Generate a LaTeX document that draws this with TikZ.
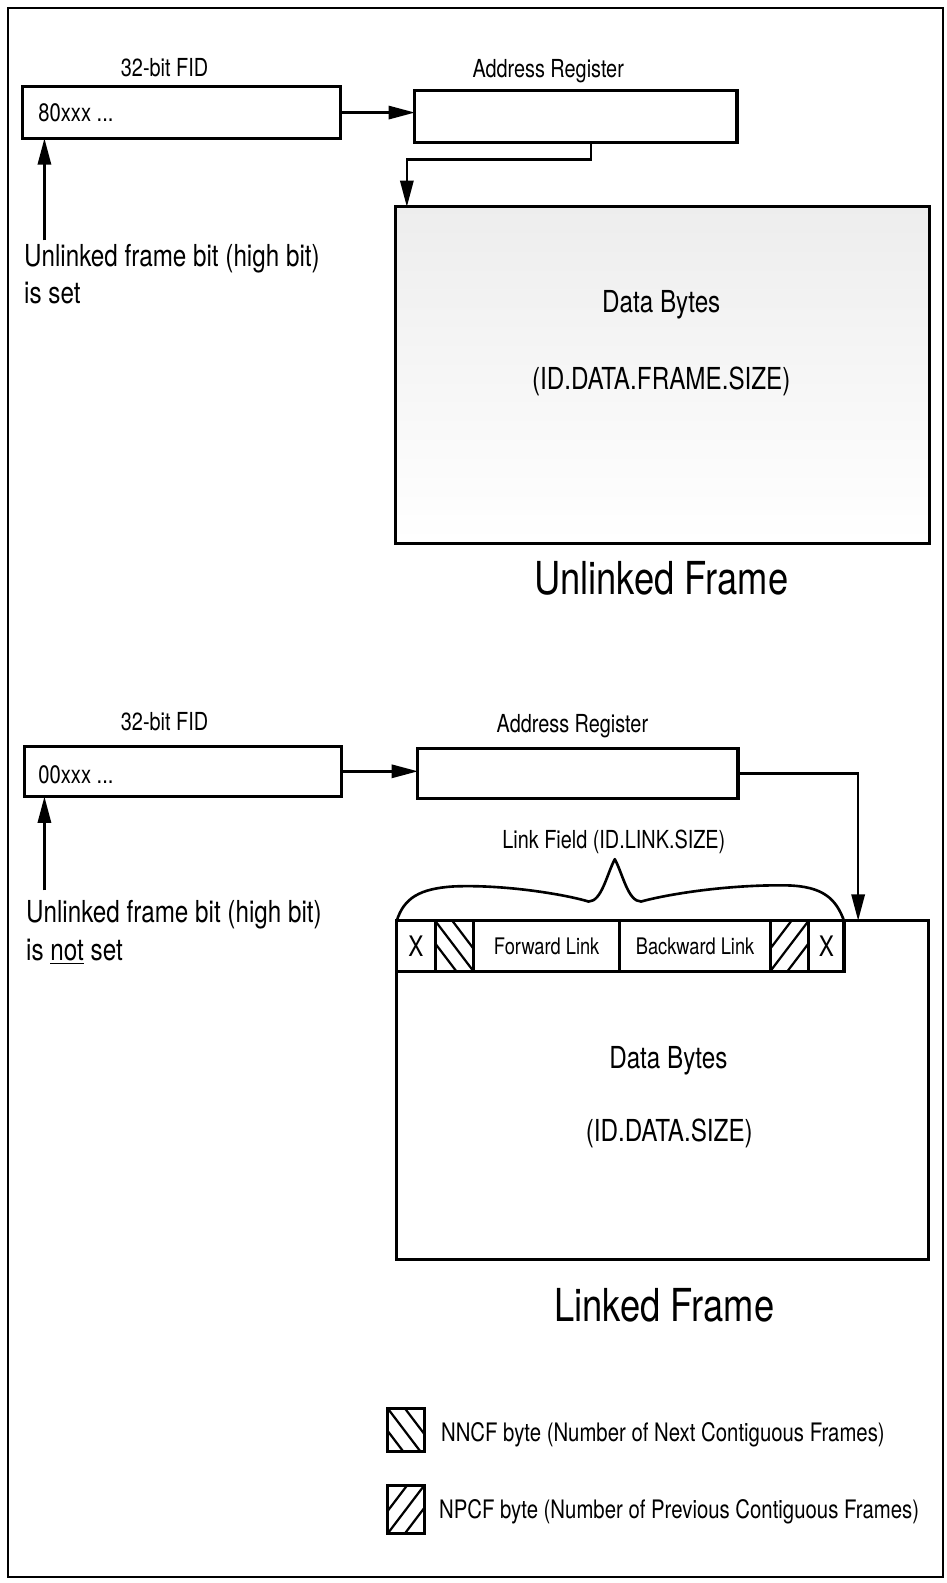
\documentclass[tikz,border=0pt]{standalone}
\usepackage{fontspec}
\setmainfont{TeX Gyre Heros}[FakeStretch=0.8]
\usetikzlibrary{arrows.meta,positioning,calc}

% hatched byte cells: "\" for NNCF, "/" for NPCF
\newcommand{\hatchnext}[1]{%
  \begin{scope}
    \clip (#1.north west) rectangle (#1.south east);
    \foreach \k in {-1,0,1}
      \draw[hatch] ($(#1.north west)+(\k*17,0)$) -- ++(60,79);
  \end{scope}}
\newcommand{\hatchprev}[1]{%
  \begin{scope}
    \clip (#1.north west) rectangle (#1.south east);
    \foreach \k in {-1,0,1}
      \draw[hatch] ($(#1.south west)+(\k*17,0)$) -- ++(60,-79);
  \end{scope}}

\begin{document}
\begin{tikzpicture}[x=0.5pt,y=-0.5pt,
  every node/.style={inner sep=0pt,outer sep=0pt},
  box/.style={draw,line width=1.5pt,anchor=north west},
  arr/.style={-{Triangle[length=13pt,width=6.5pt]},line width=1.3pt},
  lbl/.style={font=\fontsize{12.3}{14.8}\selectfont,anchor=base},
  val/.style={font=\fontsize{12.5}{15}\selectfont,anchor=base west},
  side/.style={font=\fontsize{15}{18}\selectfont,anchor=base west},
  big/.style={font=\fontsize{15}{18}\selectfont,anchor=base},
  title/.style={font=\fontsize{22.5}{27}\selectfont,anchor=base},
  cell/.style={draw,line width=1.5pt,minimum height=25pt,anchor=north west,
               font=\fontsize{11.3}{13.5}\selectfont},
  xcell/.style={cell,font=\fontsize{14}{16}\selectfont},
  brace/.style={line width=1.3pt,line join=round},
  hatch/.style={line width=1.1pt},
  keytext/.style={font=\fontsize{12.6}{15}\selectfont,anchor=base west}]
\useasboundingbox (0,0) rectangle (938,1568);
\draw[line width=1.2pt] (8,8) rectangle (934,1562);

% unlinked frame
\node[lbl] (fidUlbl) at (163,76) {32-bit FID};
\node[box,minimum width=157.5pt,minimum height=25.5pt] (fidU) at (22,86) {};
\node[val] (fidUval) at (38,120) {80xxx ...};
\node[lbl] (regUlbl) at (543,77) {Address Register};
\node[box,minimum width=159.5pt,minimum height=25.5pt] (regU) at (411,90) {};
\draw[arr] (fidU.east) -- (fidU.east -| regU.west);
\node[box,minimum width=264.5pt,minimum height=166.5pt,
      top color=black!7,bottom color=white] (dataU) at (392,205) {};
\coordinate (bendU) at (403,158);
\draw[arr] ([xshift=7.5pt]regU.south) |- (bendU) -- (bendU |- dataU.north);
\node[big] (bytesU) at (655,310) {Data Bytes};
\node[big] (sizeU) at (655,386) {(ID.DATA.FRAME.SIZE)};
\node[title] (titleU) at (655,589) {Unlinked Frame};
\coordinate (bitU) at (44,238);
\draw[arr] (bitU) -- (bitU |- fidU.south);
\node[side] (noteU1) at (24,264) {Unlinked frame bit (high bit)};
\node[side] (noteU2) at (24,301) {is set};

% linked frame
\node[lbl] (fidLlbl) at (163,724) {32-bit FID};
\node[box,minimum width=157pt,minimum height=25pt] (fidL) at (24,739) {};
\node[val] (fidLval) at (38,776) {00xxx ...};
\node[lbl] (regLlbl) at (567,726) {Address Register};
\node[box,minimum width=158.5pt,minimum height=25pt] (regL) at (414,741) {};
\draw[arr] (fidL.east) -- (fidL.east -| regL.west);
\node[box,minimum width=263.5pt,minimum height=168pt] (dataL) at (393,912) {};
\coordinate (dropL) at (850,912);
\draw[arr] (regL.east) -| (dropL);

\node[xcell,minimum width=19pt] (cXa) at (dataL.north west) {X};
\node[cell,minimum width=19pt,right=0pt of cXa] (cNN) {};
\node[cell,minimum width=72.5pt,right=0pt of cNN] (cFwd) {Forward Link};
\node[cell,minimum width=74.5pt,right=0pt of cFwd] (cBwd) {Backward Link};
\node[cell,minimum width=19pt,right=0pt of cBwd] (cNP) {};
\node[xcell,minimum width=17.5pt,right=0pt of cNP] (cXb) {X};
\hatchnext{cNN}
\hatchprev{cNP}

\draw[brace] (cXa.north west) .. controls (400,890) and (415,880) .. (450,878)
  .. controls (500,876) and (560,886) .. (583,893)
  .. controls (596,893) and (601,866) .. (609,851)
  .. controls (617,866) and (622,893) .. (635,893)
  .. controls (660,886) and (720,876) .. (780,877)
  .. controls (815,878) and (828,890) .. (cXb.north east);
\node[lbl] (linklbl) at (608,840) {Link Field (ID.LINK.SIZE)};

\node[big] (bytesL) at (662,1058) {Data Bytes};
\node[big] (sizeL) at (663,1131) {(ID.DATA.SIZE)};
\node[title] (titleL) at (658,1309) {Linked Frame};
\coordinate (bitL) at (44,882);
\draw[arr] (bitL) -- (bitL |- fidL.south);
\node[side] (noteL1) at (26,914) {Unlinked frame bit (high bit)};
\node[side] (noteL2) at (26,951) {is \underline{not} set};

% key
\node[box,minimum width=18pt,minimum height=21.5pt] (keyNN) at (384,1395) {};
\hatchnext{keyNN}
\node[keytext] (keyNNtext) at (437,1428) {NNCF byte (Number of Next Contiguous Frames)};
\node[box,minimum width=18pt,minimum height=24pt] (keyNP) at (384,1471) {};
\hatchprev{keyNP}
\node[keytext] (keyNPtext) at (435,1504) {NPCF byte (Number of Previous Contiguous Frames)};
\end{tikzpicture}
\end{document}
